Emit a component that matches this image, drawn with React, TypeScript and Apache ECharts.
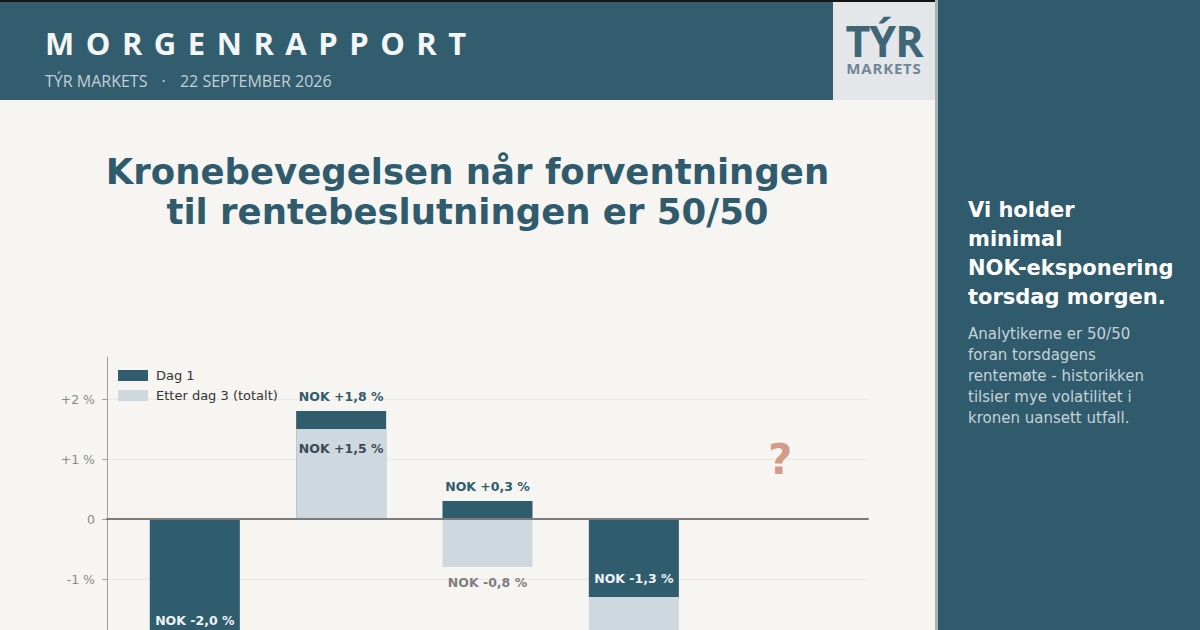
import { useEffect, useRef } from 'react'
import * as echarts from 'echarts'

// meeting slots on the x axis, the last one is the upcoming meeting
const categories = ['Møte 1', 'Møte 2', 'Møte 3', 'Møte 4', 'Torsdag']
// NOK move in % on day 1 and accumulated after day 3
const dag1 = [-2.0, 1.8, 0.3, -1.3, null]
const etterDag3 = [-2.4, 1.5, -0.8, -2.2, null]
// where the "?" sits for the upcoming meeting
const pendingLevel = [1.0]
// labelled ticks on the value axis
const yTicks = [-1, 0, 1, 2]

// visible part of the value axis (the slide cuts the chart at the bottom)
const Y_MIN = -1.85
const Y_MAX = 2.7

const DARK = '#2f5d6e'
const LIGHT = '#cdd9df'
const FONT = 'DejaVu Sans, sans-serif'
const OPEN = '"Open Sans", sans-serif'

const fmtNok = (v: number) => `NOK ${v > 0 ? '+' : ''}${v.toFixed(1).replace('.', ',')} %`
const fmtAxis = (v: number) => {
  if (Math.abs(v - Math.round(v)) > 1e-6) return ''
  if (v === 0) return '0'
  return `${v > 0 ? '+' : ''}${v} %`
}

// light bar lies inside the dark one -> draw it on top
const isInside = (i: number) => {
  const d = dag1[i]
  const e = etterDag3[i]
  if (d == null || e == null) return false
  return Math.sign(d) === Math.sign(e) && Math.abs(e) < Math.abs(d)
}

function Chart() {
  const ref = useRef<HTMLDivElement>(null)

  useEffect(() => {
    if (!ref.current) return
    const chart = echarts.init(ref.current, null, { renderer: 'svg' })

    const labelBase = { show: true, fontFamily: FONT, fontWeight: 'bold' as const, fontSize: 12.5 }

    const dagData = categories
      .map((_, i) => {
        const v = dag1[i]
        if (v == null) return null
        const pos = v >= 0
          ? { position: 'top', distance: 8, color: '#2f5b6d' }
          : { position: 'insideBottom', distance: 12, color: '#eef3f5' }
        return { value: [i, v], label: { ...labelBase, ...pos, formatter: fmtNok(v) } }
      })
      .filter(Boolean)

    const etterData = categories
      .map((_, i) => {
        const v = etterDag3[i]
        if (v == null) return null
        // labels beyond the visible axis range are left out
        const label = isInside(i) || v < Y_MIN || v > Y_MAX
          ? { show: false }
          : { ...labelBase, position: v >= 0 ? 'top' : 'bottom', distance: 9, color: '#7e7e7e', formatter: fmtNok(v) }
        return { value: [i, v], label }
      })
      .filter(Boolean)

    const overlayData = categories
      .map((_, i) => {
        if (!isInside(i)) return null
        const v = etterDag3[i] as number
        return {
          value: [i, v],
          label: { ...labelBase, position: v >= 0 ? 'insideTop' : 'insideBottom', distance: 13, color: '#3c4a53', formatter: fmtNok(v) },
        }
      })
      .filter(Boolean)

    const barCommon = { type: 'bar' as const, barWidth: 90, barGap: '-100%', clip: false }

    const option: echarts.EChartsOption = {
      animation: false,
      backgroundColor: 'transparent',
      grid: { left: 107, right: 67, top: 17, bottom: 0 },
      legend: {
        data: ['Dag 1', 'Etter dag 3 (totalt)'],
        orient: 'vertical',
        left: 113,
        top: 24,
        itemWidth: 30,
        itemHeight: 11,
        itemGap: 7,
        icon: 'rect',
        textStyle: { fontFamily: FONT, fontSize: 13, color: '#333', padding: [0, 0, 0, 3] },
      },
      xAxis: {
        type: 'value',
        min: -0.6,
        max: categories.length - 0.4,
        z: 10,
        axisLine: { show: true, onZero: true, lineStyle: { color: '#7b7b7b', width: 2 } },
        axisTick: { show: false },
        axisLabel: { show: false },
        splitLine: { show: false },
      },
      yAxis: {
        type: 'value',
        min: Y_MIN,
        max: Y_MAX,
        axisLine: { show: true, onZero: false, lineStyle: { color: '#a0a0a0', width: 1 } },
        axisTick: { show: true, length: 5, lineStyle: { color: '#a0a0a0' }, customValues: yTicks } as any,
        axisLabel: { color: '#8a8a8a', fontSize: 12.5, fontFamily: FONT, margin: 12, formatter: fmtAxis, customValues: yTicks } as any,
        splitLine: { show: true, showMaxLine: true, showMinLine: true, lineStyle: { color: '#ebe7e1', width: 1 } },
      },
      series: [
        {
          ...barCommon,
          name: 'Etter dag 3 (totalt)',
          z: 2,
          itemStyle: { color: LIGHT },
          data: etterData as any,
        },
        {
          ...barCommon,
          name: 'Dag 1',
          z: 3,
          itemStyle: { color: DARK },
          data: dagData as any,
        },
        {
          ...barCommon,
          name: 'etter-overlay',
          z: 4,
          itemStyle: { color: LIGHT },
          data: overlayData as any,
        },
        {
          name: 'pending',
          type: 'scatter',
          symbolSize: 1,
          silent: true,
          z: 5,
          itemStyle: { color: 'transparent' },
          label: {
            show: true,
            position: 'inside',
            formatter: '?',
            fontFamily: FONT,
            fontWeight: 'bold',
            fontSize: 42,
            color: '#c8836d',
          },
          data: pendingLevel.map((y) => [categories.length - 1, y]),
        },
      ],
    }

    chart.setOption(option)
    return () => chart.dispose()
  }, [])

  return <div ref={ref} style={{ position: 'absolute', left: 0, top: 340, width: 935, height: 290 }} />
}

export default function App() {
  return (
    <div
      style={{
        position: 'fixed',
        left: 0,
        top: 0,
        width: 1200,
        height: 630,
        overflow: 'hidden',
        background: '#f7f5f2',
        fontFamily: FONT,
      }}
    >
      {/* header band */}
      <div style={{ position: 'absolute', left: 0, top: 0, width: 938, height: 2, background: '#151515' }} />
      <div style={{ position: 'absolute', left: 0, top: 2, width: 833, height: 98, background: '#325d6e' }} />
      <div
        style={{
          position: 'absolute',
          left: 45,
          top: 23,
          color: '#f3f6f7',
          fontFamily: OPEN,
          fontWeight: 700,
          fontSize: 31,
          letterSpacing: 11.5,
          lineHeight: '40px',
        }}
      >
        MORGENRAPPORT
      </div>
      <div
        style={{
          position: 'absolute',
          left: 45,
          top: 70,
          color: '#c3d0d6',
          fontFamily: OPEN,
          fontSize: 16,
          lineHeight: '22px',
          whiteSpace: 'pre',
        }}
      >
        {'TÝR MARKETS '}
        <span style={{ margin: '0 10px' }}>·</span>
        {' 22 SEPTEMBER 2026'}
      </div>

      {/* logo */}
      <div style={{ position: 'absolute', left: 833, top: 2, width: 102, height: 98, background: '#e4e7ea' }} />
      <div
        style={{
          position: 'absolute',
          left: 833,
          top: 21,
          width: 102,
          textAlign: 'center',
          color: '#3e6676',
          fontFamily: OPEN,
          fontWeight: 700,
          fontSize: 43,
          letterSpacing: -1,
          lineHeight: '40px',
        }}
      >
        TÝR
      </div>
      <div
        style={{
          position: 'absolute',
          left: 833,
          top: 61,
          width: 102,
          textAlign: 'center',
          color: '#6f8795',
          fontFamily: OPEN,
          fontWeight: 700,
          fontSize: 15,
          letterSpacing: 0.8,
          lineHeight: '14px',
        }}
      >
        MARKETS
      </div>

      {/* title */}
      <div
        style={{
          position: 'absolute',
          left: 0,
          top: 152,
          width: 935,
          textAlign: 'center',
          color: '#2f5b6d',
          fontWeight: 700,
          fontSize: 35.5,
          lineHeight: '40px',
        }}
      >
        <div>Kronebevegelsen når forventningen</div>
        <div>til rentebeslutningen er 50/50</div>
      </div>

      <Chart />

      {/* side panel */}
      <div style={{ position: 'absolute', left: 935, top: 0, width: 3, height: 630, background: '#a9b2b7' }} />
      <div style={{ position: 'absolute', left: 938, top: 0, width: 262, height: 630, background: '#2f5b6c' }} />
      <div
        style={{
          position: 'absolute',
          left: 968,
          top: 196,
          color: '#ffffff',
          fontWeight: 700,
          fontSize: 21,
          lineHeight: '29px',
        }}
      >
        <div>Vi holder</div>
        <div>minimal</div>
        <div>NOK-eksponering</div>
        <div>torsdag morgen.</div>
      </div>
      <div
        style={{
          position: 'absolute',
          left: 968,
          top: 324,
          color: '#c6d2d8',
          fontSize: 15,
          lineHeight: '21px',
        }}
      >
        <div>Analytikerne er 50/50</div>
        <div>foran torsdagens</div>
        <div>rentemøte - historikken</div>
        <div>tilsier mye volatilitet i</div>
        <div>kronen uansett utfall.</div>
      </div>
    </div>
  )
}
